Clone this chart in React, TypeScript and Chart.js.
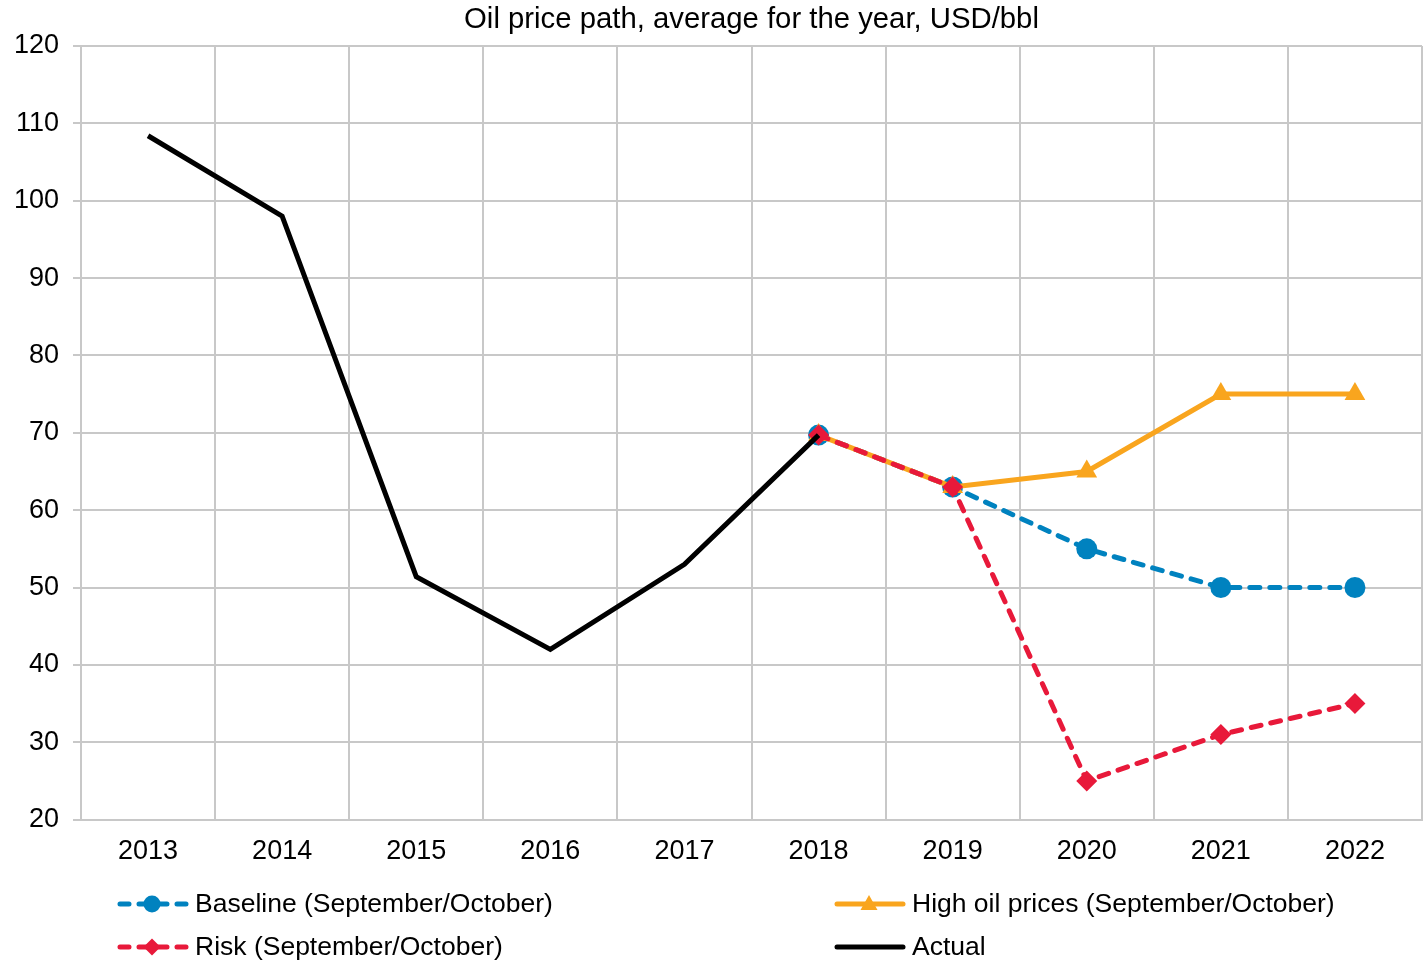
import React, { useEffect, useRef } from "react";
import { Chart, registerables } from "chart.js";

Chart.register(...registerables);

const years = ["2013", "2014", "2015", "2016", "2017", "2018", "2019", "2020", "2021", "2022"];
const baseline = [null, null, null, null, null, 69.7, 63, 55, 50, 50];
const highOil = [null, null, null, null, null, 69.7, 63, 65, 75, 75];
const risk = [null, null, null, null, null, 69.7, 63, 25, 31, 35];
const actual = [108.4, 98, 51.4, 42, 53, 69.7, null, null, null, null];

const TITLE = "Oil price path, average for the year, USD/bbl";
const FONT = "'Liberation Sans', Arial, sans-serif";
const BLUE = "#0082BF";
const ORANGE = "#F9A51E";
const RED = "#E8193A";
const BLACK = "#000000";
const GRID = "#C8C8C8";

const legendItems = [
  { label: "Baseline (September/October)", color: BLUE, dash: [9, 10], marker: "circle", col: 0, row: 0 },
  { label: "High oil prices (September/October)", color: ORANGE, dash: [], marker: "triangle", col: 1, row: 0 },
  { label: "Risk (September/October)", color: RED, dash: [9, 10], marker: "diamond", col: 0, row: 1 },
  { label: "Actual", color: BLACK, dash: [], marker: "none", col: 1, row: 1 },
];

const overlayPlugin = {
  id: "overlay",
  afterDraw(chart: any) {
    const ctx = chart.ctx;
    const area = chart.chartArea;
    ctx.save();
    ctx.fillStyle = "#000";
    ctx.font = `29.3px ${FONT}`;
    ctx.textAlign = "center";
    ctx.textBaseline = "middle";
    ctx.fillText(TITLE, (area.left + area.right) / 2, 20);

    const colX = [118, 835];
    const rowY = [904, 947];
    legendItems.forEach((it) => {
      const x0 = colX[it.col];
      const y = rowY[it.row];
      const x1 = x0 + 68;
      ctx.strokeStyle = it.color;
      ctx.lineWidth = 5;
      ctx.lineCap = "round";
      ctx.setLineDash(it.dash);
      ctx.beginPath();
      ctx.moveTo(x0 + 2, y);
      ctx.lineTo(x1, y);
      ctx.stroke();
      ctx.setLineDash([]);
      const cx = (x0 + x1) / 2;
      ctx.fillStyle = it.color;
      if (it.marker === "circle") {
        ctx.beginPath();
        ctx.arc(cx, y, 8.5, 0, Math.PI * 2);
        ctx.fill();
      } else if (it.marker === "diamond") {
        ctx.beginPath();
        ctx.moveTo(cx, y - 8.5);
        ctx.lineTo(cx + 8.5, y);
        ctx.lineTo(cx, y + 8.5);
        ctx.lineTo(cx - 8.5, y);
        ctx.closePath();
        ctx.fill();
      } else if (it.marker === "triangle") {
        ctx.beginPath();
        ctx.moveTo(cx, y - 9);
        ctx.lineTo(cx + 8.5, y + 6);
        ctx.lineTo(cx - 8.5, y + 6);
        ctx.closePath();
        ctx.fill();
      }
      ctx.fillStyle = "#000";
      ctx.font = `26.5px ${FONT}`;
      ctx.textAlign = "left";
      ctx.textBaseline = "middle";
      ctx.fillText(it.label, x1 + 9, y + 1);
    });
    ctx.restore();
  },
};

export default function App() {
  const ref = useRef<HTMLCanvasElement>(null);

  useEffect(() => {
    if (!ref.current) return;
    const chart = new Chart(ref.current, {
      type: "line",
      data: {
        labels: years,
        datasets: [
          {
            label: "Actual",
            data: actual,
            borderColor: BLACK,
            backgroundColor: BLACK,
            borderWidth: 5,
            pointRadius: 0,
            pointHoverRadius: 0,
            tension: 0,
            order: 0,
          },
          {
            label: "Risk (September/October)",
            data: risk,
            borderColor: RED,
            backgroundColor: RED,
            borderWidth: 5,
            borderDash: [10, 10],
            borderCapStyle: "round",
            pointStyle: "rectRot",
            pointRadius: 10.5,
            pointBorderWidth: 0,
            tension: 0,
            order: 1,
          },
          {
            label: "High oil prices (September/October)",
            data: highOil,
            borderColor: ORANGE,
            backgroundColor: ORANGE,
            borderWidth: 5,
            pointStyle: "triangle",
            pointRadius: 12,
            pointBorderWidth: 0,
            tension: 0,
            order: 2,
          },
          {
            label: "Baseline (September/October)",
            data: baseline,
            borderColor: BLUE,
            backgroundColor: BLUE,
            borderWidth: 5,
            borderDash: [10, 10],
            borderCapStyle: "round",
            pointStyle: "circle",
            pointRadius: 10.5,
            pointBorderWidth: 0,
            tension: 0,
            order: 3,
          },
        ] as any,
      },
      options: {
        animation: false,
        responsive: false,
        maintainAspectRatio: false,
        spanGaps: false,
        layout: { autoPadding: false, padding: { left: 0, right: 6, top: 46, bottom: 79 } },
        plugins: {
          legend: { display: false },
          title: { display: false },
          tooltip: { enabled: false },
        },
        scales: {
          x: {
            offset: true,
            grid: { offset: true, color: GRID, lineWidth: 2, drawTicks: false },
            border: { color: GRID, width: 2 },
            ticks: { color: "#000", font: { family: FONT, size: 27 }, padding: 16, maxRotation: 0 },
            afterFit(scale: any) {
              scale.paddingLeft = 0;
              scale.paddingRight = 0;
            },
          },
          y: {
            min: 20,
            max: 120,
            ticks: { stepSize: 10, color: "#000", font: { family: FONT, size: 27 }, padding: 14 },
            grid: { color: GRID, lineWidth: 2, tickLength: 8 },
            border: { color: GRID, width: 2 },
            afterFit(scale: any) {
              scale.width = 81;
            },
          },
        },
      },
      plugins: [overlayPlugin],
    });
    return () => chart.destroy();
  }, []);

  return (
    <div style={{ position: "fixed", left: 0, top: 0, width: 1428, height: 963, background: "#fff" }}>
      <canvas ref={ref} width={1428} height={963} style={{ width: 1428, height: 963, display: "block" }} />
    </div>
  );
}
